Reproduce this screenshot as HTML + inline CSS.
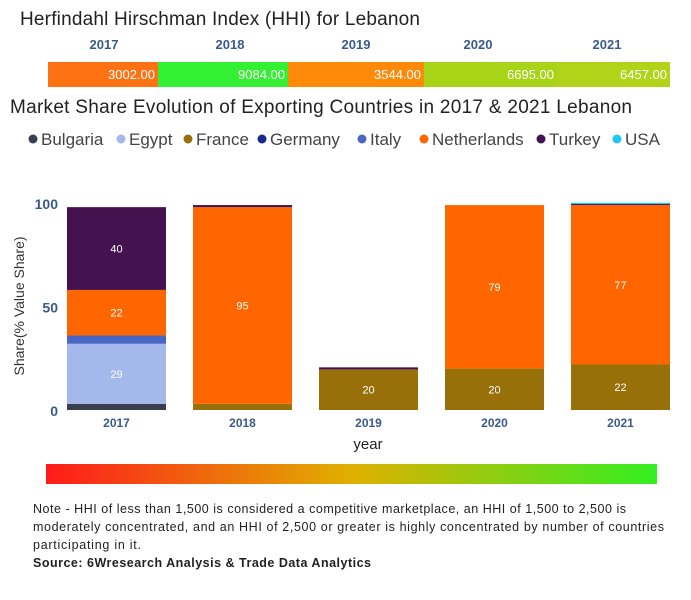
<!DOCTYPE html>
<html><head><meta charset="utf-8"><style>
body{margin:0;background:#fff;font-family:"Liberation Sans",sans-serif}
svg{display:block}
</style></head><body>
<svg width="691" height="600" xmlns="http://www.w3.org/2000/svg">
<defs><linearGradient id="grad" x1="0" x2="1"><stop offset="0" stop-color="#ff1a1a"/><stop offset="0.5" stop-color="#e0b000"/><stop offset="1" stop-color="#33ee22"/></linearGradient></defs>
<text x="20" y="25" font-size="19" fill="#222" textLength="400">Herfindahl Hirschman Index (HHI) for Lebanon</text>
<g id="hhi"></g>
<text x="10" y="113" font-size="19" fill="#222" textLength="622">Market Share Evolution of Exporting Countries in 2017 &amp; 2021 Lebanon</text>
<g id="legend"></g>
<g id="plot"></g>
<text x="24" y="306" font-size="14" fill="#333" text-anchor="middle" transform="rotate(-90 24 306)">Share(% Value Share)</text>
<text x="368" y="449" font-size="15" fill="#222" text-anchor="middle">year</text>
<rect x="46" y="464" width="611" height="20" fill="url(#grad)"/>
<g font-size="12.5" fill="#222">
<text x="33" y="513" textLength="593">Note - HHI of less than 1,500 is considered a competitive marketplace, an HHI of 1,500 to 2,500 is</text>
<text x="33" y="531" textLength="631">moderately concentrated, and an HHI of 2,500 or greater is highly concentrated by number of countries</text>
<text x="33" y="549" textLength="108">participating in it.</text>
<text x="33" y="567" font-weight="bold" textLength="338">Source: 6Wresearch Analysis &amp; Trade Data Analytics</text>
</g>
</svg>
<script>
const years=["2017","2018","2019","2020","2021"];
const hhiValues=[3002,9084,3544,6695,6457];
const hhiColors=["#ff7214","#33f033","#ff8a0a","#a8d418","#b2d418"];
const countries=["Bulgaria","Egypt","France","Germany","Italy","Netherlands","Turkey","USA"];
const colors=["#3a3f50","#a4b8ec","#98700a","#1a2a8c","#4a66c4","#ff6600","#44124e","#1ec8f0"];
const bulgaria=[3,0,0,0,0];
const egypt=[29,0,0,0,0];
const france=[0,3,19.6,20,22];
const germany=[0,0,0,0,0];
const italy=[4,0,0,0,0];
const netherlands=[22,95,0,79,77];
const turkey=[40,1,1,0,0.5];
const usa=[0,0,0,0,0.6];
const series=[bulgaria,egypt,france,germany,italy,netherlands,turkey,usa];
const yTicks=[0,50,100];
const NS="http://www.w3.org/2000/svg";
function mk(t,a,p){const e=document.createElementNS(NS,t);for(const k in a)e.setAttribute(k,a[k]);p.appendChild(e);return e;}
const hhi=document.getElementById('hhi');
const segEdges=[48,158,288,424,557,670];
years.forEach((y,i)=>{
 const x0=segEdges[i],x1=segEdges[i+1];
 const r=mk('rect',{x:x0,y:62,width:x1-x0,height:25,fill:hhiColors[i]},hhi);
 
 
 const t=mk('text',{x:x1-3,y:79,'font-size':13,fill:'#fff','text-anchor':'end'},hhi);
 t.textContent=hhiValues[i].toFixed(2);
 
 
 const yl=mk('text',{x:[104,230,356,478,607][i],y:49,'font-size':13,'font-weight':'bold',fill:'#3a5a8c','text-anchor':'middle'},hhi);
 yl.textContent=y;
 
 
});
const lg=document.getElementById('legend');
const lx=[33,121,188,262,362,424,541,617];
countries.forEach((c,i)=>{
 const g=mk('g',{},lg);
 
 
 mk('circle',{cx:lx[i],cy:139,r:4.5,fill:colors[i]},g);
 const t=mk('text',{x:lx[i]+8,y:145,'font-size':17,fill:'#444'},g);
 t.textContent=c;
});
const plot=document.getElementById('plot');
const y0=410,y1=203;
const ys=v=>y0-(v/100)*(y0-y1);
const xs=i=>67+i*126;
const bw=99;
yTicks.forEach(v=>{
 const t=mk('text',{x:58,y:ys(v)+6,'font-size':14,'font-weight':'bold',fill:'#3a5a8c','text-anchor':'end'},plot);
 t.textContent=v;
 
 
});
years.forEach((y,i)=>{
 let acc=0;
 series.forEach((s,k)=>{
  const v=s[i]; if(!v) return;
  const top=ys(acc+v),bot=ys(acc);
  const r=mk('rect',{x:xs(i),y:top,width:bw,height:bot-top,fill:colors[k]},plot);
  
  
  if(v>=10){
   const t=mk('text',{x:xs(i)+bw/2,y:(top+bot)/2+4,'font-size':11,fill:'#fff','text-anchor':'middle'},plot);
   t.textContent=Math.round(v);
   
   
  }
  acc+=v;
 });
 const t=mk('text',{x:xs(i)+bw/2,y:427,'font-size':12,'font-weight':'bold',fill:'#3a5a8c','text-anchor':'middle'},plot);
 t.textContent=y;
 
 
});
</script>
</body></html>
